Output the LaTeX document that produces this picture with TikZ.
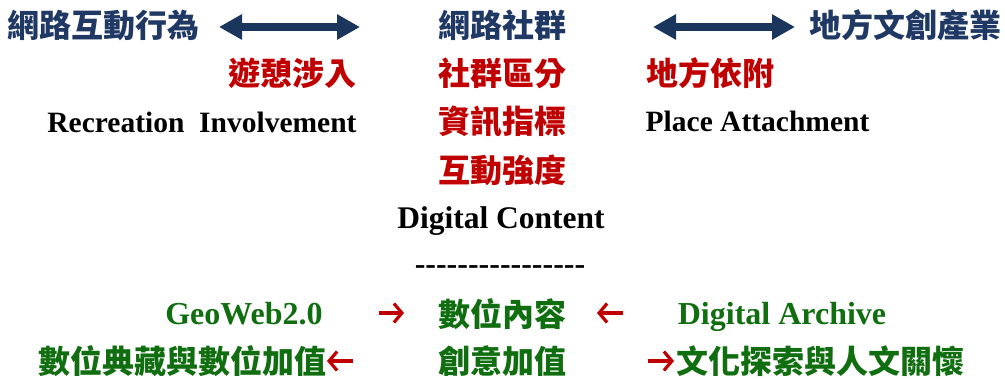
\documentclass[tikz,border=0pt]{standalone}
\usepackage{fontspec}
\setmainfont{Liberation Serif}
\newfontfamily\cjk{Noto Sans CJK TC}
\usetikzlibrary{arrows.meta}
\definecolor{navy}{RGB}{31,56,100}
\definecolor{arrowblue}{RGB}{27,54,93}
\definecolor{cred}{RGB}{192,0,0}
\definecolor{cgreen}{RGB}{16,110,16}
\newcommand\hy{\mbox{-}}
\begin{document}
\begin{tikzpicture}[x=1pt,y=-1pt,
  zh/.style={inner sep=0, anchor=base, font={\cjk\bfseries\fontsize{32}{32}\selectfont}},
  en/.style={inner sep=0, anchor=base, font={\bfseries\fontsize{29.5}{29.5}\selectfont}},
  gen/.style={inner sep=0, anchor=base, text=cgreen, font={\bfseries\fontsize{32}{32}\selectfont}},
  bluearr/.style={draw=arrowblue, line width=8pt, {Triangle[length=23pt,width=24pt]}-{Triangle[length=23pt,width=24pt]}},
  redarr/.style={draw=cred, line width=3.2pt, -{Straight Barb[length=8pt,width=19pt]}}]
\useasboundingbox (0,0) rectangle (1005,379);
% row 1
\node[zh,text=navy] (net) at (103.5,38) {網路互動行為};
\node[zh,text=navy] (soc) at (502.5,38) {網路社群};
\node[zh,text=navy] (ind) at (905.5,38) {地方文創產業};
\coordinate (a1) at (219,27);
\coordinate (a2) at (360,27);
\coordinate (a3) at (653,27);
\coordinate (a4) at (795,27);
\draw[bluearr] (a1) -- (a2);
\draw[bluearr] (a3) -- (a4);
% row 2
\node[zh,text=cred] (rec) at (292.5,86) {遊憩涉入};
\node[zh,text=cred] (seg) at (502,86) {社群區分};
\node[zh,text=cred] (pla) at (710.5,86) {地方依附};
% row 3
\node[en] (recen) at (202,133) {Recreation\ \ Involvement};
\node[zh,text=cred] (info) at (502,134) {資訊指標};
\node[en] (plaen) at (757.5,132) {Place Attachment};
% row 4
\node[zh,text=cred] (intens) at (502,183) {互動強度};
% row 5
\node[en,font={\bfseries\fontsize{31.5}{31.5}\selectfont}] (dc) at (501,229) {Digital Content};
% row 6
\node[en,font={\bfseries\fontsize{32}{32}\selectfont}] (dash) at (500,275) {\hy\hy\hy\hy\hy\hy\hy\hy\hy\hy\hy\hy\hy\hy\hy\hy};
% row 7
\node[gen] (geo) at (244,325) {GeoWeb2.0};
\node[zh,text=cgreen] (dcz) at (502,327) {數位內容};
\node[gen] (arch) at (782,325) {Digital Archive};
\coordinate (r1s) at (379,313);
\coordinate (r1e) at (404,313);
\coordinate (r2s) at (623,313);
\coordinate (r2e) at (597,313);
\draw[redarr] (r1s) -- (r1e);
\draw[redarr] (r2s) -- (r2e);
% row 8
\node[zh,text=cgreen] (dv) at (182.5,374) {數位典藏與數位加值};
\node[zh,text=cgreen] (cv) at (502,374) {創意加值};
\node[zh,text=cgreen] (cul) at (820,374) {文化探索與人文關懷};
\coordinate (r3s) at (353,361);
\coordinate (r3e) at (327,361);
\coordinate (r4s) at (648,361);
\coordinate (r4e) at (674,361);
\draw[redarr] (r3s) -- (r3e);
\draw[redarr] (r4s) -- (r4e);
\end{tikzpicture}
\end{document}
